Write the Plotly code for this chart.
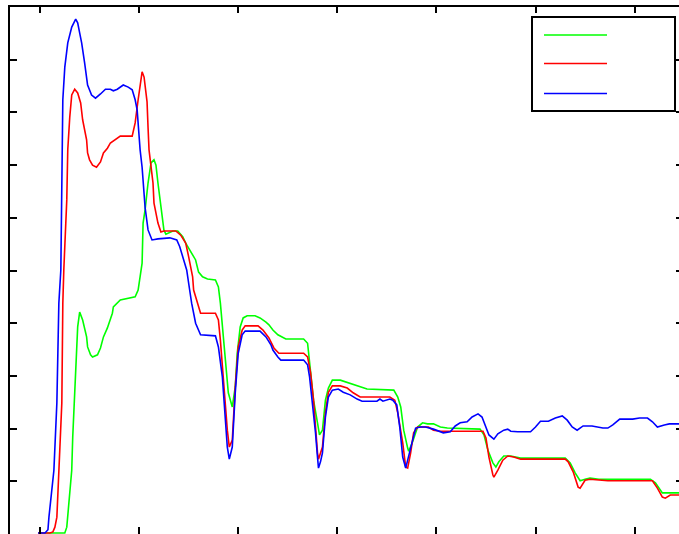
import plotly.graph_objects as go

# ---- data (x in axis units, ticks every 100; y in axis units 0-100, ticks every 10) ----
blue_x = [98, 105, 108, 109, 114, 117, 119, 121, 123, 125, 128, 132, 136, 138, 140, 142, 145, 147, 148, 152,
          156, 161, 166, 171, 174, 178, 184, 189, 193, 196, 198, 201, 203, 206, 209, 213, 219, 231, 238, 241,
          244, 248, 251, 253, 257, 262, 277, 280, 284, 287, 289, 291, 294, 297, 300, 304, 307, 322, 328, 333,
          335, 340, 343, 366, 370, 372, 375, 378, 380, 381, 383, 385, 388, 391, 395, 401, 406, 413, 420, 425,
          440, 443, 446, 453, 456, 460, 463, 466, 469, 471, 476, 479, 484, 489, 497, 507, 514, 519, 524, 531,
          536, 542, 546, 550, 553, 558, 562, 568, 572, 575, 582, 595, 600, 605, 613, 620, 627, 632, 637, 642,
          648, 657, 668, 673, 678, 685, 698, 705, 713, 718, 723, 730, 735, 745]
blue_y = [0.2, 0.2, 0.8, 3.2, 12.1, 24.9, 43.8, 50.1, 82.4, 88.6, 93.2, 96.2, 97.7, 97.0, 95.1, 93.2, 89.4, 86.7, 85.2, 83.3,
          82.7, 83.5, 84.4, 84.4, 84.1, 84.4, 85.2, 84.8, 84.3, 82.4, 80.5, 72.9, 69.6, 62.0, 57.7, 55.8, 56.0, 56.2, 55.8, 54.5,
          52.6, 50.1, 46.3, 43.8, 40.0, 37.8, 37.6, 35.5, 29.8, 21.6, 16.5, 14.2, 16.5, 26.8, 34.3, 37.8, 38.5, 38.5, 37.4, 35.9,
          34.9, 33.6, 33.0, 33.0, 32.1, 29.8, 24.9, 19.2, 14.6, 12.5, 13.7, 15.4, 22.2, 26.0, 27.3, 27.5, 26.9, 26.4, 25.6, 25.2,
          25.2, 25.6, 25.2, 25.6, 25.4, 24.5, 20.3, 14.6, 12.5, 14.0, 17.8, 20.1, 20.3, 20.3, 19.9, 19.2, 19.4, 20.5, 21.1, 21.3,
          22.2, 22.8, 22.2, 20.3, 18.8, 18.0, 19.0, 19.7, 19.9, 19.5, 19.4, 19.4, 20.3, 21.4, 21.4, 22.0, 22.4, 21.6, 20.3, 19.7,
          20.5, 20.5, 20.1, 20.1, 20.7, 21.8, 21.8, 22.0, 22.0, 21.3, 20.3, 20.7, 20.9, 20.9]

red_x = [98, 110, 113, 115, 117, 119, 122, 123, 124, 127, 128, 130, 132, 135, 138, 141, 143, 147, 148, 150,
         153, 157, 161, 164, 168, 171, 174, 178, 181, 193, 196, 199, 202, 203, 205, 208, 209, 210, 214, 215,
         219, 222, 225, 237, 242, 247, 250, 254, 255, 259, 262, 277, 280, 282, 285, 289, 291, 294, 297, 300,
         304, 307, 320, 325, 331, 336, 341, 366, 370, 373, 376, 378, 380, 381, 385, 388, 391, 395, 403, 410,
         416, 423, 430, 453, 458, 461, 466, 469, 471, 474, 477, 481, 492, 497, 504, 547, 550, 553, 557, 558,
         562, 567, 572, 578, 585, 630, 633, 638, 643, 645, 650, 655, 673, 718, 723, 728, 731, 736, 745]
red_y = [0.2, 0.2, 0.4, 1.3, 3.2, 12.1, 24.9, 43.8, 50.1, 63.4, 72.9, 79.1, 83.3, 84.4, 83.7, 81.8, 78.6, 74.8, 72.3, 71.0,
         70.0, 69.6, 70.6, 72.3, 73.2, 74.2, 74.6, 75.1, 75.5, 75.5, 78.0, 82.4, 86.9, 87.7, 86.7, 82.0, 77.2, 72.9, 66.6, 62.8,
         59.0, 57.3, 57.5, 57.5, 56.7, 55.2, 52.6, 48.8, 46.3, 43.8, 41.9, 41.9, 40.6, 36.8, 28.7, 19.7, 16.5, 17.8, 27.9, 35.5,
         38.7, 39.5, 39.5, 38.7, 37.2, 35.3, 34.3, 34.3, 33.6, 30.6, 25.4, 19.7, 15.4, 14.2, 16.5, 23.0, 26.9, 28.1, 28.1, 27.7,
         26.8, 26.0, 26.0, 26.0, 25.4, 23.0, 17.3, 12.7, 12.5, 15.4, 19.2, 20.3, 20.3, 19.7, 19.5, 19.5, 18.2, 14.6, 11.2, 10.8,
         12.1, 14.0, 14.8, 14.6, 14.2, 14.2, 13.7, 11.8, 8.9, 8.7, 10.2, 10.4, 10.1, 10.1, 8.7, 7.0, 6.8, 7.4, 7.4]

green_x = [98, 125, 127, 129, 132, 133, 135, 137, 138, 140, 143, 147, 148, 151, 153, 158, 161, 164, 168, 173,
           174, 181, 186, 191, 196, 199, 201, 203, 204, 206, 209, 212, 215, 217, 219, 222, 225, 227, 230, 234,
           239, 244, 247, 252, 257, 260, 264, 269, 277, 280, 282, 285, 287, 290, 294, 297, 299, 302, 305, 309,
           317, 322, 328, 331, 335, 340, 348, 366, 370, 371, 373, 376, 380, 382, 385, 388, 391, 395, 403, 411,
           420, 430, 457, 461, 464, 467, 471, 472, 476, 481, 486, 491, 497, 504, 511, 544, 548, 552, 557, 560,
           563, 568, 575, 585, 630, 635, 640, 645, 650, 655, 664, 716, 721, 728, 733, 745]
green_y = [0.2, 0.2, 1.3, 5.9, 12.1, 18.4, 26.0, 34.3, 39.3, 42.1, 40.6, 37.4, 35.5, 34.0, 33.6, 34.0, 35.3, 37.4, 39.1, 41.9,
           43.1, 44.4, 44.6, 44.8, 45.0, 46.3, 48.8, 51.4, 59.0, 61.5, 66.6, 70.4, 71.0, 70.0, 66.6, 62.0, 57.7, 56.9, 57.1, 57.5,
           57.5, 56.4, 55.2, 53.5, 52.0, 49.7, 48.8, 48.4, 48.2, 46.9, 43.8, 37.4, 33.0, 26.8, 24.1, 27.9, 34.3, 39.3, 41.0, 41.4,
           41.4, 41.0, 40.2, 39.7, 38.7, 37.8, 37.0, 37.0, 36.2, 34.3, 30.6, 25.4, 21.1, 18.8, 19.7, 25.4, 27.7, 29.2, 29.2, 28.7,
           28.1, 27.5, 27.3, 26.0, 24.1, 19.7, 16.3, 15.7, 17.5, 20.3, 21.1, 20.9, 20.9, 20.3, 20.1, 19.9, 18.8, 15.9, 13.5, 12.7,
           13.7, 14.8, 14.8, 14.4, 14.4, 13.5, 11.6, 10.1, 10.4, 10.6, 10.4, 10.4, 9.7, 7.8, 7.8, 7.8]

x_ticks = [100, 200, 300, 400, 500, 600, 700]
y_ticks = [10, 20, 30, 40, 50, 60, 70, 80, 90]
x_range = [69.7, 744.8]
y_range = [0, 100]

GREEN = "#00ff00"
RED = "#ff0000"
BLUE = "#0000ff"

fig = go.Figure()
for xs, ys, col in [(green_x, green_y, GREEN), (red_x, red_y, RED), (blue_x, blue_y, BLUE)]:
    fig.add_trace(go.Scatter(x=xs, y=ys, mode="lines", line=dict(color=col, width=1.6),
                             showlegend=False, hoverinfo="skip", cliponaxis=False))
# invisible trace to anchor the mirrored (top/right) axes
fig.add_trace(go.Scatter(x=[x_range[0]], y=[y_range[0]], xaxis="x2", yaxis="y2", mode="markers",
                         marker=dict(opacity=0), showlegend=False, hoverinfo="skip"))

W, H = 679, 534
L, T = 10, 7
pw, ph = W - L, H - T

def px_to_paper_x(px):
    return (px - L) / pw

def px_to_paper_y(py):
    return (H - py) / ph

common = dict(showgrid=False, zeroline=False, showticklabels=False, ticks="inside",
              tickcolor="black", tickwidth=1.5)
fig.update_layout(
    width=W, height=H,
    margin=dict(l=L, r=0, t=T, b=0, pad=0),
    paper_bgcolor="white", plot_bgcolor="white",
    showlegend=False,
    xaxis=dict(range=x_range, tickvals=x_ticks, ticklen=7, showline=False, **common),
    xaxis2=dict(range=x_range, tickvals=x_ticks, ticklen=6, overlaying="x", side="top",
                showline=True, linecolor="black", linewidth=2, **common),
    yaxis=dict(range=y_range, tickvals=y_ticks, ticklen=7, showline=True, linecolor="black",
               linewidth=2, **common),
    yaxis2=dict(range=y_range, tickvals=y_ticks, ticklen=3, overlaying="y", side="right",
                showline=False, **common),
)

# legend box drawn as shapes (entries have no text)
shapes = [dict(type="rect", xref="paper", yref="paper",
               x0=px_to_paper_x(532), x1=px_to_paper_x(675),
               y0=px_to_paper_y(111), y1=px_to_paper_y(17),
               line=dict(color="black", width=2), fillcolor="white", layer="above")]
for col, py in [(GREEN, 35), (RED, 63.5), (BLUE, 93.5)]:
    shapes.append(dict(type="line", xref="paper", yref="paper",
                       x0=px_to_paper_x(544), x1=px_to_paper_x(607),
                       y0=px_to_paper_y(py), y1=px_to_paper_y(py),
                       line=dict(color=col, width=1.6), layer="above"))
fig.update_layout(shapes=shapes)

fig.write_html("out.html", config={"displayModeBar": False},
               post_script="document.body.style.margin='0';document.body.style.overflow='hidden';")
